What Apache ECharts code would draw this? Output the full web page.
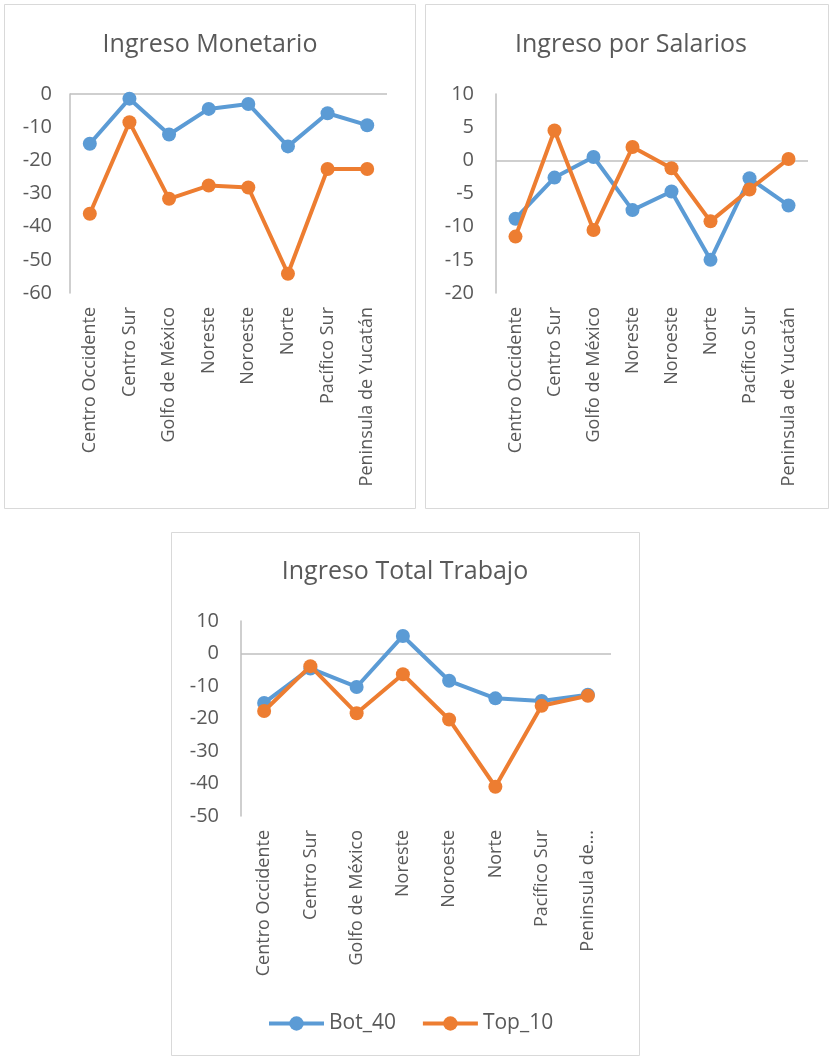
<!DOCTYPE html>
<html>
<head>
<meta charset="utf-8">
<script src="https://cdn.jsdelivr.net/npm/echarts@6/dist/echarts.min.js"></script>
<style>
html,body{margin:0;padding:0;background:#fff;}
#chart{width:830px;height:1058px;}
</style>
</head>
<body>
<div id="chart"></div>
<script>
const categories = ['Centro Occidente','Centro Sur','Golfo de México','Noreste','Noroeste','Norte','Pacífico Sur','Peninsula de Yucatán'];
const categoriesTotalTrabajo = ['Centro Occidente','Centro Sur','Golfo de México','Noreste','Noroeste','Norte','Pacífico Sur','Peninsula de...'];
const seriesNames = ['Bot_40','Top_10'];
const titles = ['Ingreso Monetario','Ingreso por Salarios','Ingreso Total Trabajo'];

const monetarioBot40 = [-15.0, -1.4, -12.2, -4.5, -3.0, -15.8, -5.8, -9.4];
const monetarioTop10 = [-36.1, -8.5, -31.6, -27.6, -28.2, -54.2, -22.6, -22.6];
const salariosBot40 = [-8.8, -2.6, 0.5, -7.5, -4.7, -15.0, -2.7, -6.8];
const salariosTop10 = [-11.5, 4.5, -10.5, 2.0, -1.2, -9.2, -4.4, 0.2];
const totalBot40 = [-15.2, -4.6, -10.3, 5.4, -8.4, -13.8, -14.6, -12.7];
const totalTop10 = [-17.7, -3.9, -18.4, -6.4, -20.3, -41.0, -16.1, -13.0];

const yTicks = [
  {min: -60, max: 0, interval: 10},
  {min: -20, max: 10, interval: 5},
  {min: -50, max: 10, interval: 10}
];

const FONT = '"Open Sans", sans-serif';
const TXT = '#595959';
const AXISC = '#bfbfbf';
const BLUE = '#5B9BD5';
const ORANGE = '#ED7D31';

const grids = [
  {left: 70, top: 94, width: 317, height: 199},
  {left: 496, top: 94, width: 312, height: 199},
  {left: 241, top: 621, width: 370, height: 195}
];
const catLists = [categories, categories, categoriesTotalTrabajo];
const data = [
  [monetarioBot40, monetarioTop10],
  [salariosBot40, salariosTop10],
  [totalBot40, totalTop10]
];
const yMargins = [18, 22, 22];

const titleOpts = [
  {text: titles[0], left: 210, top: 30},
  {text: titles[1], left: 631, top: 30},
  {text: titles[2], left: 405, top: 557}
].map(t => ({
  text: t.text, left: t.left, top: t.top, textAlign: 'center', padding: 0,
  textStyle: {fontFamily: FONT, fontSize: 25, fontWeight: 'normal', color: TXT, lineHeight: 30}
}));

const xAxes = grids.map((g, i) => ({
  type: 'category', gridIndex: i, data: catLists[i], boundaryGap: true,
  axisLine: {show: false}, axisTick: {show: false}, splitLine: {show: false},
  axisLabel: {interval: 0, rotate: 90, fontFamily: FONT, fontSize: 18, color: TXT, margin: 14}
}));
const yAxes = grids.map((g, i) => ({
  type: 'value', gridIndex: i, min: yTicks[i].min, max: yTicks[i].max, interval: yTicks[i].interval,
  axisLine: {show: true, lineStyle: {color: AXISC, width: 1.5}}, axisTick: {show: false},
  splitLine: {show: false},
  axisLabel: {fontFamily: FONT, fontSize: 20, color: TXT, margin: yMargins[i]}
}));

const series = [];
data.forEach((pair, i) => {
  pair.forEach((vals, j) => {
    const s = {
      name: seriesNames[j], type: 'line', xAxisIndex: i, yAxisIndex: i, data: vals,
      symbol: 'circle', symbolSize: 14, showSymbol: true,
      lineStyle: {width: 4, color: j === 0 ? BLUE : ORANGE},
      itemStyle: {color: j === 0 ? BLUE : ORANGE},
      z: 3 + j, animation: false
    };
    if (j === 0) {
      s.markLine = {
        silent: true, symbol: ['none', 'none'], label: {show: false},
        lineStyle: {color: AXISC, type: 'solid', width: 1.5},
        data: [{yAxis: 0}], animation: false, z: 1
      };
    }
    series.push(s);
  });
});

const panels = [
  {x: 4, y: 4, w: 411, h: 504},
  {x: 425, y: 4, w: 403, h: 504},
  {x: 171, y: 532, w: 468, h: 523}
];

const option = {
  backgroundColor: '#fff',
  animation: false,
  title: titleOpts,
  grid: grids,
  xAxis: xAxes,
  yAxis: yAxes,
  legend: {
    data: seriesNames, left: 267, top: 1013, padding: 0, itemWidth: 55, itemHeight: 18, itemGap: 25,
    textStyle: {fontFamily: FONT, fontSize: 21, color: TXT},
    lineStyle: {width: 4}
  },
  graphic: panels.map(p => ({
    type: 'rect', z: -10, silent: true,
    shape: {x: p.x + 0.5, y: p.y + 0.5, width: p.w, height: p.h},
    style: {fill: '#fff', stroke: '#d9d9d9', lineWidth: 1}
  })),
  series: series
};

const chart = echarts.init(document.getElementById('chart'), null, {renderer: 'canvas'});
chart.setOption(option);
</script>
</body>
</html>
